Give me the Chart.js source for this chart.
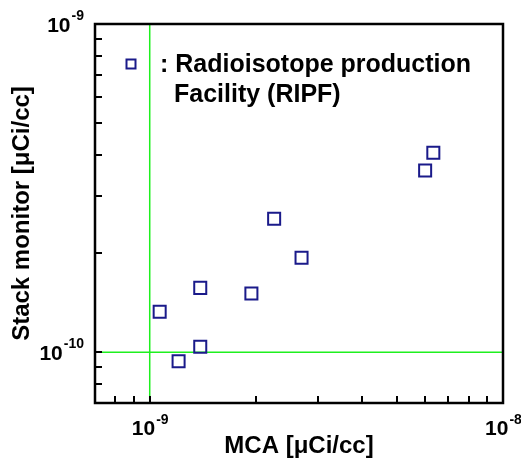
<!DOCTYPE html>
<html>
<head>
<meta charset="utf-8">
<script src="https://cdn.jsdelivr.net/npm/chart.js@4/dist/chart.umd.min.js"></script>
<style>
  html, body { margin: 0; padding: 0; background: #fff; }
  #wrap { width: 521px; height: 466px; position: relative; }
</style>
</head>
<body>
<div id="wrap"><canvas id="c" width="521" height="466"></canvas></div>
<script>
// ---- data ----
const mcaValues   = [6.35e-9, 6.02e-9, 2.25e-9, 2.69e-9, 1.39e-9, 1.94e-9, 1.067e-9, 1.39e-9, 1.207e-9];
const stackValues = [4.05e-10, 3.58e-10, 2.55e-10, 1.94e-10, 1.57e-10, 1.51e-10, 1.327e-10, 1.038e-10, 9.39e-11];
const seriesLabel = ["Radioisotope production", "Facility (RIPF)"];
const xRange = [7e-10, 1e-8];
const yRange = [7e-11, 1e-9];
const xTickValues = [7e-10, 8e-10, 9e-10, 1e-9, 2e-9, 3e-9, 4e-9, 5e-9, 6e-9, 7e-9, 8e-9, 9e-9, 1e-8];
const yTickValues = [7e-11, 8e-11, 9e-11, 1e-10, 2e-10, 3e-10, 4e-10, 5e-10, 6e-10, 7e-10, 8e-10, 9e-10, 1e-9];
const xMajorTicks = [{ value: 1e-9, base: "10", exp: "-9" }, { value: 1e-8, base: "10", exp: "-8" }];
const yMajorTicks = [{ value: 1e-10, base: "10", exp: "-10" }, { value: 1e-9, base: "10", exp: "-9" }];
const refLineX = 1e-9;
const refLineY = 1e-10;
const xTitle = "MCA [\u03bcCi/cc]";
const yTitle = "Stack monitor [\u03bcCi/cc]";

const FONT = '"Liberation Sans", Arial, Helvetica, sans-serif';
const markerColor = '#1a1a8a';
const green = '#1ef01e';

const points = mcaValues.map((x, i) => ({ x: x, y: stackValues[i] }));

const framePlugin = {
  id: 'frame',
  afterDatasetsDraw(chart) {
    const ctx = chart.ctx;
    const a = chart.chartArea;
    const xs = chart.scales.x, ys = chart.scales.y;
    ctx.save();
    ctx.strokeStyle = '#000';
    // inward ticks
    ctx.lineWidth = 2;
    ctx.beginPath();
    xs.ticks.forEach(t => {
      const px = Math.round(xs.getPixelForValue(t.value));
      if (px <= a.left + 1 || px >= a.right - 1) return;
      ctx.moveTo(px, a.bottom);
      ctx.lineTo(px, a.bottom - 7);
    });
    ys.ticks.forEach(t => {
      const py = Math.round(ys.getPixelForValue(t.value));
      if (py <= a.top + 1 || py >= a.bottom - 1) return;
      ctx.moveTo(a.left, py);
      ctx.lineTo(a.left + 7, py);
    });
    ctx.stroke();
    // frame
    ctx.lineWidth = 2.5;
    ctx.strokeRect(a.left, a.top, a.right - a.left, a.bottom - a.top);

    // tick labels with superscript exponents
    ctx.fillStyle = '#000';
    ctx.textBaseline = 'alphabetic';
    const baseFont = 'bold 21px ' + FONT;
    const expFont = 'bold 14px ' + FONT;
    xMajorTicks.forEach(t => {
      const px = xs.getPixelForValue(t.value);
      ctx.font = baseFont; const wb = ctx.measureText(t.base).width;
      ctx.font = expFont; const we = ctx.measureText(t.exp).width;
      const x0 = px - (wb + we) / 2;
      ctx.textAlign = 'left';
      ctx.font = baseFont; ctx.fillText(t.base, x0, a.bottom + 32);
      ctx.font = expFont; ctx.fillText(t.exp, x0 + wb + 1, a.bottom + 21);
    });
    yMajorTicks.forEach(t => {
      const py = ys.getPixelForValue(t.value);
      ctx.font = baseFont; const wb = ctx.measureText(t.base).width;
      ctx.font = expFont; const we = ctx.measureText(t.exp).width;
      const xr = a.left - 11;
      ctx.textAlign = 'left';
      ctx.font = expFont; ctx.fillText(t.exp, xr - we, py - 4);
      ctx.font = baseFont; ctx.fillText(t.base, xr - we - wb - 1, py + 8);
    });

    // legend
    const lx = a.left + 36, ly = a.top + 40;
    ctx.strokeStyle = markerColor;
    ctx.lineWidth = 2;
    ctx.strokeRect(lx - 4.5, ly - 4.5, 9, 9);
    ctx.fillStyle = '#000';
    ctx.font = 'bold 25px ' + FONT;
    ctx.textAlign = 'left';
    ctx.fillText(': ' + seriesLabel[0], lx + 29, ly + 8);
    ctx.fillText(seriesLabel[1], lx + 43, ly + 38);
    ctx.restore();
  }
};

new Chart(document.getElementById('c'), {
  data: {
    datasets: [
      {
        type: 'scatter',
        label: seriesLabel.join(' '),
        data: points,
        pointStyle: 'rect',
        pointRadius: 8.5,
        pointHoverRadius: 8.5,
        pointBorderWidth: 2,
        pointBorderColor: markerColor,
        pointBackgroundColor: 'rgba(0,0,0,0)',
        showLine: false
      },
      {
        type: 'line',
        data: [{ x: refLineX, y: yRange[0] }, { x: refLineX, y: yRange[1] }],
        borderColor: green, borderWidth: 1.5, pointRadius: 0, fill: false
      },
      {
        type: 'line',
        data: [{ x: xRange[0], y: refLineY }, { x: xRange[1], y: refLineY }],
        borderColor: green, borderWidth: 1.5, pointRadius: 0, fill: false
      }
    ]
  },
  options: {
    responsive: false,
    animation: false,
    devicePixelRatio: 1,
    layout: { padding: { top: 24, right: 18, left: 0, bottom: 0 } },
    plugins: { legend: { display: false }, tooltip: { enabled: false } },
    scales: {
      x: {
        type: 'logarithmic',
        min: xRange[0], max: xRange[1],
        grid: { display: false },
        border: { display: false },
        ticks: { display: false },
        afterBuildTicks: s => { s.ticks = xTickValues.map(v => ({ value: v })); },
        afterFit: s => { s.height = 63; },
        title: { display: true, text: xTitle, color: '#000',
                 font: { family: FONT, size: 24, weight: 'bold' }, padding: { top: 0, bottom: 5 } }
      },
      y: {
        type: 'logarithmic',
        min: yRange[0], max: yRange[1],
        grid: { display: false },
        border: { display: false },
        ticks: { display: false },
        afterBuildTicks: s => { s.ticks = yTickValues.map(v => ({ value: v })); },
        afterFit: s => { s.width = 95; },
        title: { display: true, text: yTitle, color: '#000',
                 font: { family: FONT, size: 24, weight: 'bold' }, padding: { top: 8, bottom: 0 } }
      }
    }
  },
  plugins: [framePlugin]
});
</script>
</body>
</html>
